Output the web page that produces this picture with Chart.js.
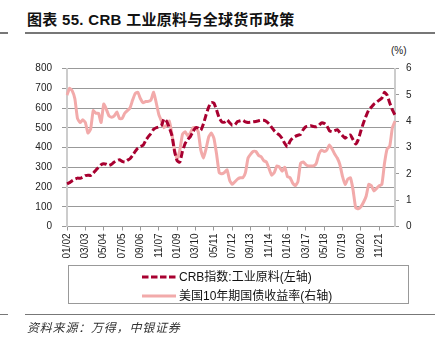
<!DOCTYPE html>
<html>
<head>
<meta charset="utf-8">
<script src="https://cdn.jsdelivr.net/npm/chart.js@4/dist/chart.umd.min.js"></script>
<style>
  html, body { margin: 0; padding: 0; background: #fff; }
  #wrap { position: relative; width: 435px; height: 346px; overflow: hidden;
          font-family: 'Liberation Sans', Arial, 'Noto Sans CJK SC', sans-serif; }
  #chart { position: absolute; left: 0; top: 0; }
  .title { position: absolute; left: 27px; top: 8px; font-size: 15px; font-weight: bold;
           color: #111; white-space: nowrap; letter-spacing: 0.3px;
           font-family: 'Liberation Sans', Arial, 'Noto Sans CJK SC', sans-serif; }
  .rule { position: absolute; height: 1.5px; background: #777; }
  .unit { position: absolute; left: 391px; top: 45px; font-size: 10px; color: #222; }
  .legend { position: absolute; left: 68px; top: 265px; width: 341px; height: 39px;
            border: 1px solid #999; box-sizing: border-box; }
  .item { position: absolute; left: 73px; height: 16px; font-size: 12px; color: #111;
          white-space: nowrap; line-height: 16px;
          font-family: 'Liberation Sans', Arial, 'Noto Sans CJK SC', sans-serif; }
  .item svg { position: absolute; left: 0; top: 5px; }
  .item span { position: absolute; left: 37px; top: 0; }
  .source { position: absolute; left: 27px; top: 318px; font-size: 12px; font-style: italic;
            color: #333; letter-spacing: 0.8px; white-space: nowrap;
            font-family: 'Noto Sans CJK SC', sans-serif; }
</style>
</head>
<body>
<div id="wrap">
  <div class="title">图表 55. CRB 工业原料与全球货币政策</div>
  <div class="rule" style="left:0;width:8px;top:32px"></div>
  <div class="rule" style="left:25px;width:410px;top:32px"></div>
  <div class="unit">(%)</div>
  <canvas id="chart" width="435" height="346"></canvas>
  <div class="legend">
    <div class="item" style="top:3px">
      <svg width="34" height="6"><line x1="0" y1="3" x2="34" y2="3" stroke="#A80030" stroke-width="3" stroke-dasharray="6.5 2.5"/></svg>
      <span>CRB指数:工业原料(左轴)</span>
    </div>
    <div class="item" style="top:22px">
      <svg width="34" height="6"><line x1="0" y1="3" x2="34" y2="3" stroke="#F2AAAA" stroke-width="3"/></svg>
      <span>美国10年期国债收益率(右轴)</span>
    </div>
  </div>
  <div class="rule" style="left:0;width:8px;top:313.5px"></div>
  <div class="rule" style="left:25px;width:410px;top:313.5px"></div>
  <div class="source">资料来源：万得，中银证券</div>
</div>
<script>
// Bi-monthly observations, Jan 2002 through Nov 2022
const startYear = 2002;
const stepMonths = 2;

// CRB raw industrials sub-index (left axis)
const crbIndustrials = [
  216, 222, 232, 240, 245, 244, 250, 258, 260, 258,
  270, 285, 300, 313, 318, 315, 309, 315, 326, 333,
  338, 330, 326, 335, 343, 360, 380, 397, 405, 411,
  436, 455, 470, 492, 500, 504, 512, 545, 532, 500,
  460, 380, 332, 326, 380, 420, 440, 455, 480, 500,
  498, 487, 520, 565, 605, 628, 625, 590, 550, 530,
  528, 540, 525, 512, 515, 532, 535, 538, 530, 527,
  528, 530, 532, 535, 538, 538, 532, 520, 502, 485,
  472, 462, 445, 420, 403, 432, 448, 456, 462, 466,
  490, 505, 508, 510, 506, 505, 512, 525, 522, 510,
  485, 480, 485, 490, 475, 460, 447, 458, 463, 440,
  418, 440, 485, 525, 560, 590, 605, 620, 630, 640,
  650, 680, 665, 625, 590, 565
];

// US 10-year Treasury yield, % (right axis)
const us10yYield = [
  4.99, 5.25, 5.15, 4.85, 4.10, 3.95, 4.05, 3.95, 3.55, 3.70,
  4.40, 4.30, 4.30, 3.95, 4.65, 4.45, 4.20, 4.15, 4.20, 4.35,
  4.10, 4.10, 4.30, 4.40, 4.50, 4.80, 5.05, 5.10, 4.85, 4.70,
  4.75, 4.75, 4.80, 5.10, 4.70, 4.25, 4.00, 3.75, 3.85, 4.00,
  3.50, 2.90, 2.55, 2.90, 3.50, 3.60, 3.45, 3.55, 3.75, 3.75,
  3.60, 2.90, 2.60, 2.95, 3.40, 3.55, 3.35, 2.75, 2.05, 2.00,
  2.05, 2.15, 1.75, 1.60, 1.70, 1.80, 1.85, 1.85, 2.05, 2.60,
  2.75, 2.85, 2.85, 2.70, 2.65, 2.50, 2.45, 2.20, 1.95, 2.05,
  2.30, 2.25, 2.10, 2.25, 1.90, 1.85, 1.65, 1.55, 1.70, 2.40,
  2.45, 2.35, 2.30, 2.30, 2.30, 2.40, 2.75, 2.90, 2.85, 2.90,
  3.10, 2.95, 2.75, 2.60, 2.35, 1.90, 1.60, 1.80, 1.85, 1.40,
  0.72, 0.67, 0.75, 0.92, 1.15, 1.60, 1.55, 1.35, 1.45, 1.55,
  1.60, 2.40, 2.95, 3.05, 3.75, 4.00
];

// Category labels "MM/YY"
const periods = crbIndustrials.map((_, i) => {
  const m = i * stepMonths;
  const yy = String((startYear + Math.floor(m / 12)) % 100).padStart(2, '0');
  const mm = String((m % 12) + 1).padStart(2, '0');
  return mm + '/' + yy;
});
const labelEvery = 7; // one axis label every 14 months

const leftTicks = [0, 100, 200, 300, 400, 500, 600, 700, 800];
const rightTicks = [0, 1, 2, 3, 4, 5, 6];

Chart.defaults.font.family = "'Liberation Sans', Arial, sans-serif";
Chart.defaults.font.size = 10;
Chart.defaults.color = '#222';

new Chart(document.getElementById('chart'), {
  type: 'line',
  data: {
    labels: periods,
    datasets: [
      {
        label: 'CRB指数:工业原料(左轴)',
        data: crbIndustrials,
        yAxisID: 'y',
        borderColor: '#A80030',
        borderWidth: 3,
        borderDash: [7, 3],
        pointRadius: 0,
        tension: 0.15,
        fill: false
      },
      {
        label: '美国10年期国债收益率(右轴)',
        data: us10yYield,
        yAxisID: 'y2',
        borderColor: '#F2AAAA',
        borderWidth: 3,
        pointRadius: 0,
        tension: 0.15,
        fill: false
      }
    ]
  },
  options: {
    responsive: false,
    animation: false,
    devicePixelRatio: 1,
    layout: { padding: { left: 0, right: 0, top: 68.5, bottom: 79.5 } },
    plugins: { legend: { display: false }, tooltip: { enabled: false } },
    scales: {
      x: {
        type: 'category',
        offset: false,
        afterFit: s => { s.height = 40; },
        grid: { drawOnChartArea: false, drawTicks: true, tickLength: 4, color: '#999' },
        border: { color: '#999', width: 1 },
        ticks: {
          autoSkip: false,
          minRotation: 90,
          maxRotation: 90,
          padding: 3,
          font: { size: 10 },
          callback: function (v, i) { return i % labelEvery === 0 ? this.getLabelForValue(v) : null; }
        }
      },
      y: {
        position: 'left',
        min: leftTicks[0],
        max: leftTicks[leftTicks.length - 1],
        afterFit: s => { s.width = 67; },
        afterBuildTicks: s => { s.ticks = leftTicks.map(v => ({ value: v })); },
        grid: { color: '#999', lineWidth: 1, drawTicks: true, tickLength: 5 },
        border: { color: '#ccc', width: 2 },
        ticks: { padding: 10, font: { size: 10 } }
      },
      y2: {
        position: 'right',
        min: rightTicks[0],
        max: rightTicks[rightTicks.length - 1],
        afterFit: s => { s.width = 40; },
        afterBuildTicks: s => { s.ticks = rightTicks.map(v => ({ value: v })); },
        grid: { drawOnChartArea: false, drawTicks: true, tickLength: 4, color: '#999' },
        border: { color: '#ccc', width: 2 },
        ticks: { padding: 7, font: { size: 10 } }
      }
    }
  }
});
</script>
</body>
</html>
